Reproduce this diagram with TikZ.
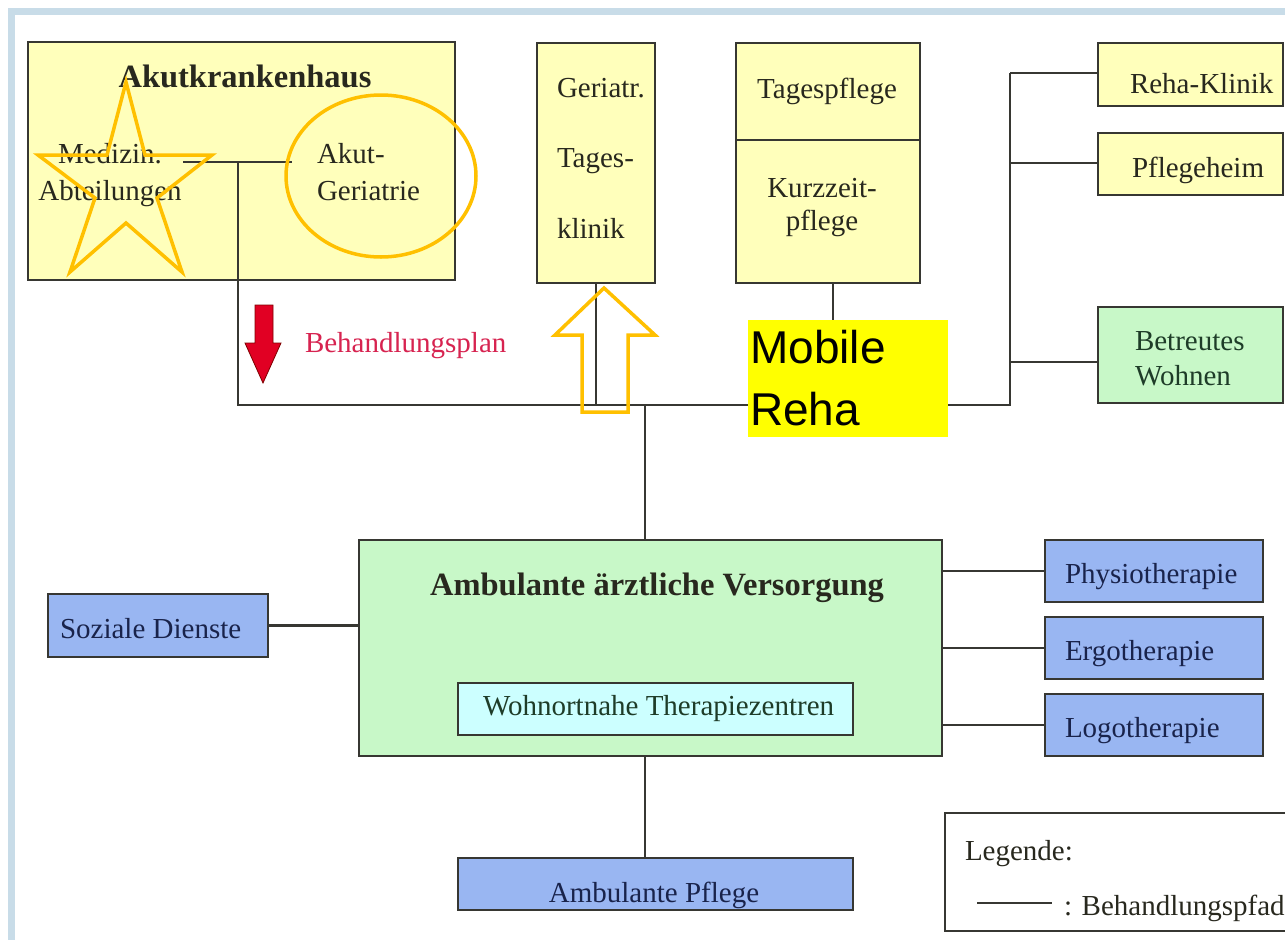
\documentclass[tikz,border=0pt]{standalone}
\usepackage{fontspec}
\setmainfont{Liberation Serif}
\newfontfamily\sansf{Liberation Sans}
\definecolor{yel}{RGB}{255,255,187}
\definecolor{grn}{RGB}{200,248,200}
\definecolor{blu}{RGB}{153,182,242}
\definecolor{cya}{RGB}{204,255,255}
\definecolor{org}{RGB}{255,192,0}
\definecolor{mrye}{RGB}{255,255,0}
\definecolor{linec}{RGB}{55,55,50}
\definecolor{redarr}{RGB}{225,0,35}
\definecolor{redtxt}{RGB}{215,35,80}
\definecolor{frame}{RGB}{200,220,232}
\definecolor{txtc}{RGB}{40,40,30}
\definecolor{txtb}{RGB}{25,35,75}
\definecolor{txtg}{RGB}{30,60,40}
\begin{document}
\begin{tikzpicture}[x=1pt,y=-1pt,
  box/.style={draw=linec, line width=2.6pt, inner sep=0pt, outer sep=0pt, anchor=north west},
  conn/.style={draw=linec, line width=2.5pt},
  lbl/.style={inner sep=0pt, outer sep=0pt, text=txtc, font=\fontsize{29}{35}\selectfont},
  lblb/.style={lbl, text=txtb},
  lblg/.style={lbl, text=txtg},
  orgmark/.style={draw=org, line width=3.5pt, line join=miter}
]
\useasboundingbox (0,0) rectangle (1285,940);
\clip (0,0) rectangle (1285,940);
\fill[white] (0,0) rectangle (1285,940);
% screenshot frame
\fill[frame] (8,8) rectangle (15,940);
\fill[frame] (8,8) rectangle (1285,15);

% coordinates for connectors
\coordinate (m1) at (183,162);
\coordinate (m2) at (292,162);
\coordinate (j1) at (238,162);
\coordinate (j2) at (238,405);
\coordinate (bj) at (645,405);
\coordinate (rb) at (1010,405);
\coordinate (rt) at (1010,73);
\coordinate (rp) at (1010,163);
\coordinate (bw) at (1010,362);
\coordinate (legA) at (977,903);
\coordinate (legB) at (1052,903);

% top boxes
\node[box, fill=yel, minimum width=427pt, minimum height=238pt] (akh) at (28,42) {};
\node[box, fill=yel, minimum width=118pt, minimum height=240pt] (ger) at (537,43) {};
\node[box, fill=yel, minimum width=184pt, minimum height=97pt] (tag) at (736,43) {};
\node[box, fill=yel, minimum width=184pt, minimum height=143pt] (kzp) at (736,140) {};
\node[box, fill=yel, minimum width=185pt, minimum height=63pt] (reha) at (1098,43) {};
\node[box, fill=yel, minimum width=185pt, minimum height=62pt] (pfh) at (1098,133) {};
\node[box, fill=grn, minimum width=185pt, minimum height=96pt] (betr) at (1098,307) {};

% connectors top
\draw[conn] (m1) -- (m2);
\draw[conn] (j1) -- (j2) -- (rb) -- (rt);
\draw[conn] (rt) -- (rt -| reha.west);
\draw[conn] (rp) -- (rp -| pfh.west);
\draw[conn] (bw) -- (bw -| betr.west);
\draw[conn] (ger.south) -- (ger.south |- j2);
\draw[conn] (kzp.south -| 833,0) -- (833,405);

% text top
\node[lbl, anchor=base, font=\fontsize{32.5}{36}\selectfont\bfseries] (t1) at (245,87) {Akutkrankenhaus};
\node[lbl, anchor=base, align=center, font=\fontsize{29}{37}\selectfont] (t2) at (110,200) {Medizin.\\Abteilungen};
\node[lbl, anchor=base west, align=left, font=\fontsize{29}{37}\selectfont] (t3) at (317,200) {Akut-\\Geriatrie};
\node[lbl, anchor=base west, align=left, font=\fontsize{29}{70.5}\selectfont] (t4) at (557,238) {Geriatr.\\Tages-\\klinik};
\node[lbl, anchor=base] (t5) at (827,98) {Tagespflege};
\node[lbl, anchor=base, align=center, font=\fontsize{29}{33}\selectfont] (t6) at (822,230) {Kurzzeit-\\pflege};
\node[lbl, anchor=base west] (t7) at (1130,93) {Reha-Klinik};
\node[lbl, anchor=base west] (t8) at (1132,177) {Pflegeheim};
\node[lblg, anchor=base west, align=left, font=\fontsize{29}{35}\selectfont] (t9) at (1135,385) {Betreutes\\Wohnen};

% Behandlungsplan arrow
\filldraw[fill=redarr, draw=red!50!black, line width=0.8pt]
  (255,305) -- (273,305) -- (273,343) -- (281,343) -- (263,383) -- (245,343) -- (255,343) -- cycle;
\node[lbl, text=redtxt, anchor=base west] (bp) at (305,352) {Behandlungsplan};

% Mobile Reha
\node[box, draw=none, fill=mrye, minimum width=200pt, minimum height=117pt] (mr) at (748,320) {};
\node[inner sep=0pt, anchor=base west, align=left, font=\sansf\fontsize{46}{62}\selectfont] (mrt) at (750,425) {Mobile\\Reha};

% orange markings
\draw[orgmark] (126,82) -- (145,155) -- (212,155) -- (157,198) -- (182,272) -- (126,223) -- (70,272) -- (95,198) -- (38,155) -- (107,155) -- cycle;
\draw[org, line width=3.5pt] (381,176) ellipse [x radius=95, y radius=81];
\draw[orgmark] (604,288) -- (655,335) -- (628,335) -- (628,412) -- (582,412) -- (582,335) -- (555,335) -- cycle;

% lower part
\node[box, fill=grn, minimum width=583pt, minimum height=216pt] (amb) at (359,540) {};
\node[box, fill=cya, minimum width=395pt, minimum height=52pt] (wtz) at (458,683) {};
\node[box, fill=blu, minimum width=220pt, minimum height=63pt] (soz) at (48,594) {};
\node[box, fill=blu, minimum width=218pt, minimum height=62pt] (phy) at (1045,540) {};
\node[box, fill=blu, minimum width=218pt, minimum height=62pt] (ergo) at (1045,617) {};
\node[box, fill=blu, minimum width=218pt, minimum height=62pt] (logo) at (1045,694) {};
\node[box, fill=blu, minimum width=395pt, minimum height=52pt] (apf) at (458,858) {};

\draw[conn] (bj) -- (bj |- amb.north);
\draw[conn] (bj |- amb.south) -- (bj |- apf.north);
\draw[conn] (soz.east) -- (soz.east -| amb.west);
\draw[conn] (amb.east |- phy.west) -- (phy.west);
\draw[conn] (amb.east |- ergo.west) -- (ergo.west);
\draw[conn] (amb.east |- logo.west) -- (logo.west);

\node[lbl, anchor=base, font=\fontsize{32.5}{36}\selectfont\bfseries] (t10) at (657,595) {Ambulante ärztliche Versorgung};
\node[lblg, anchor=base west] (t11) at (483,715) {Wohnortnahe Therapiezentren};
\node[lblb, anchor=base west] (t12) at (60,638) {Soziale Dienste};
\node[lblb, anchor=base west] (t13) at (1065,583) {Physiotherapie};
\node[lblb, anchor=base west] (t14) at (1065,660) {Ergotherapie};
\node[lblb, anchor=base west] (t15) at (1065,737) {Logotherapie};
\node[lblb, anchor=base] (t16) at (654,902) {Ambulante Pflege};

% legend
\node[box, fill=white, minimum width=360pt, minimum height=118pt] (leg) at (945,813) {};
\node[lbl, anchor=base west] (t17) at (965,860) {Legende:};
\draw[linec, line width=1.6pt] (legA) -- (legB);
\node[lbl, anchor=base west] (t18) at (1064,915) {: Behandlungspfad};
\end{tikzpicture}
\end{document}
